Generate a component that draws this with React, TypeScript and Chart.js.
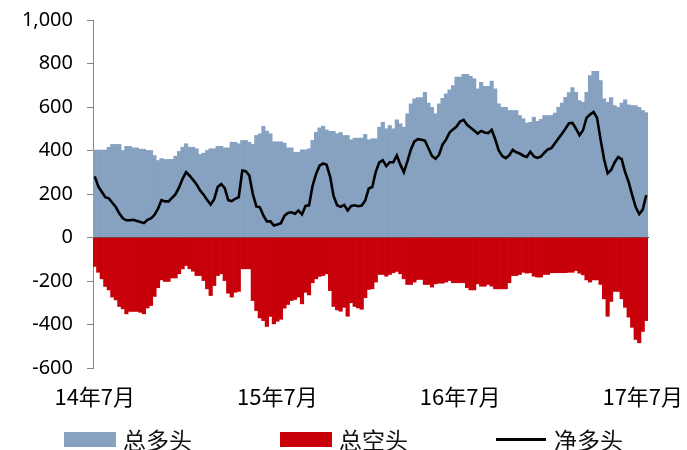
import React, { useEffect, useRef } from 'react';
import { Chart, registerables } from 'chart.js';

Chart.register(...registerables);

// Weekly positions, 2014-07 .. 2017-07
const LONG = [
  402, 402, 402, 402, 415, 428, 428, 428, 400, 419,
  419, 412, 412, 406, 406, 400, 400, 377, 354, 363,
  359, 359, 359, 374, 396, 415, 431, 415, 415, 408,
  382, 388, 400, 408, 408, 419, 419, 412, 412, 438,
  438, 431, 446, 446, 438, 428, 469, 477, 511, 489,
  477, 440, 440, 440, 434, 412, 412, 392, 392, 403,
  403, 408, 446, 484, 504, 512, 495, 488, 488, 477,
  483, 469, 469, 449, 457, 457, 457, 474, 449, 454,
  454, 507, 530, 500, 515, 500, 541, 523, 507, 569,
  615, 638, 643, 643, 668, 618, 599, 569, 615, 640,
  661, 679, 699, 737, 737, 750, 750, 741, 730, 684,
  714, 695, 695, 719, 684, 615, 599, 599, 584, 584,
  584, 561, 546, 526, 530, 553, 534, 543, 561, 561,
  561, 572, 599, 618, 645, 666, 689, 668, 630, 622,
  668, 745, 764, 764, 722, 638, 622, 643, 607, 599,
  618, 633, 610, 607, 607, 599, 584, 574,
];

const SHORT = [
  -133, -160, -190, -225, -241, -274, -287, -317, -328, -351,
  -340, -340, -340, -344, -351, -324, -313, -271, -231, -195,
  -202, -202, -186, -186, -167, -144, -129, -144, -155, -175,
  -175, -198, -236, -267, -221, -175, -167, -198, -256, -274,
  -252, -248, -144, -144, -144, -290, -336, -370, -382, -409,
  -363, -397, -385, -376, -325, -308, -290, -285, -274, -305,
  -252, -264, -208, -190, -179, -175, -167, -244, -317, -333,
  -339, -321, -362, -300, -317, -324, -330, -277, -239, -236,
  -205, -170, -170, -178, -170, -162, -156, -167, -190, -216,
  -216, -205, -193, -193, -216, -216, -228, -213, -210, -210,
  -205, -198, -208, -208, -208, -208, -231, -241, -241, -213,
  -224, -224, -216, -224, -236, -236, -236, -236, -208, -175,
  -175, -170, -160, -164, -162, -178, -182, -182, -170, -170,
  -162, -162, -162, -162, -162, -160, -160, -152, -164, -172,
  -195, -205, -195, -195, -216, -282, -362, -294, -248, -248,
  -282, -321, -366, -413, -469, -484, -432, -382,
];

const NET = [
  281, 235, 210, 185, 180, 160, 140, 110, 88, 79,
  79, 81, 76, 71, 66, 81, 88, 104, 132, 172,
  166, 166, 182, 199, 230, 270, 300, 284, 265, 244,
  216, 197, 172, 152, 176, 232, 246, 227, 172, 167,
  178, 186, 308, 305, 285, 200, 143, 139, 101, 74,
  74, 55, 60, 66, 100, 113, 116, 109, 124, 106,
  145, 148, 237, 292, 330, 340, 334, 280, 190, 148,
  141, 150, 124, 145, 148, 144, 147, 170, 225, 232,
  302, 345, 355, 328, 346, 346, 377, 335, 300, 350,
  405, 442, 452, 449, 445, 410, 375, 362, 380, 427,
  450, 482, 497, 510, 533, 541, 518, 505, 492, 478,
  490, 483, 480, 495, 452, 400, 375, 365, 378, 403,
  392, 386, 376, 370, 394, 373, 366, 372, 390, 405,
  411, 433, 455, 477, 500, 525, 527, 500, 470, 493,
  550, 565, 577, 550, 450, 360, 295, 310, 345, 370,
  360, 300, 255, 195, 140, 108, 128, 195,
];

const WEEKS = LONG.map((_, i) => 'W' + i);
const TICK_INDEX = [0, 52, 104, 156];
const TICK_LABELS = ['14年7月', '15年7月', '16年7月', '17年7月'];
const SERIES_NAMES = ['总多头', '总空头', '净多头'];

const BLUE = '#87A1C1';
const RED = '#C8000A';
const CJK = "'Noto Sans CJK SC', 'Noto Sans', sans-serif";

export default function App() {
  const ref = useRef<HTMLCanvasElement | null>(null);

  useEffect(() => {
    if (!ref.current) return;
    const barCommon = {
      type: 'bar' as const,
      borderWidth: 0,
      barPercentage: 1,
      categoryPercentage: 1,
      stack: 'positions',
      xAxisID: 'x',
      yAxisID: 'y',
    };
    const chart = new Chart(ref.current, {
      type: 'bar',
      data: {
        labels: WEEKS,
        datasets: [
          {
            type: 'line',
            label: SERIES_NAMES[2],
            data: NET,
            borderColor: '#000000',
            borderWidth: 2.6,
            pointRadius: 0,
            tension: 0,
            order: 0,
            stack: 'net',
            xAxisID: 'x',
            yAxisID: 'y',
          } as any,
          { ...barCommon, label: SERIES_NAMES[0], data: LONG, backgroundColor: BLUE, order: 2 },
          { ...barCommon, label: SERIES_NAMES[1], data: SHORT, backgroundColor: RED, order: 1 },
        ],
      },
      options: {
        animation: false,
        responsive: true,
        maintainAspectRatio: false,
        layout: { padding: { top: 20, right: 39, bottom: 0, left: 0 } },
        plugins: { legend: { display: false }, tooltip: { enabled: false } },
        scales: {
          x: {
            type: 'category',
            position: { y: 0 } as any,
            stacked: true,
            offset: true,
            z: 1,
            grid: {
              offset: true,
              drawOnChartArea: false,
              drawTicks: true,
              tickLength: 7,
              lineWidth: 1,
              color: (ctx: any) => (TICK_INDEX.includes(ctx.index) ? '#303030' : 'rgba(0,0,0,0)'),
            },
            border: { display: true, color: '#404040', width: 1 },
            ticks: { display: false, autoSkip: false },
          },
          x2: {
            type: 'category',
            position: 'bottom',
            offset: true,
            grid: { display: false, drawTicks: false, offset: true },
            border: { display: false },
            ticks: {
              autoSkip: false,
              maxRotation: 0,
              minRotation: 0,
              padding: 15,
              color: '#000000',
              font: { family: CJK, size: 22 },
              callback: (_v: any, i: number) => {
                const k = TICK_INDEX.indexOf(i);
                return k >= 0 ? TICK_LABELS[k] : '';
              },
            },
            afterFit: (s: any) => {
              s.height = 82;
            },
          },
          y: {
            type: 'linear',
            position: 'left',
            stacked: true,
            min: -600,
            max: 1000,
            z: 1,
            ticks: {
              stepSize: 200,
              padding: 14,
              color: '#000000',
              font: { family: "'Noto Sans', sans-serif", size: 20 },
              callback: (v: any) => Number(v).toLocaleString('en-US'),
            },
            grid: { drawOnChartArea: false, drawTicks: true, tickLength: 6, color: '#868686' },
            border: { display: true, color: '#868686', width: 1 },
            afterFit: (s: any) => {
              s.width = 93;
              s.paddingTop = 4;
              s.paddingBottom = 4;
            },
          },
        },
      },
    });
    return () => chart.destroy();
  }, []);

  const swatches = [
    <div key="b" style={{ width: 52, height: 15, background: BLUE, marginRight: 7 }} />,
    <div key="r" style={{ width: 52, height: 15, background: RED, marginRight: 7 }} />,
    <div key="l" style={{ width: 50, height: 3, background: '#000', marginRight: 8 }} />,
  ];

  return (
    <div style={{ position: 'absolute', left: 0, top: 0, width: 687, height: 450, background: '#fff' }}>
      <div style={{ position: 'absolute', left: 0, top: 0, width: 687, height: 450 }}>
        <canvas ref={ref} />
      </div>
      <div
        style={{
          position: 'absolute',
          left: 64,
          top: 424,
          height: 30,
          display: 'flex',
          alignItems: 'center',
          fontFamily: CJK,
          fontSize: 23,
          color: '#111',
        }}
      >
        {SERIES_NAMES.map((name, i) => (
          <div key={name} style={{ width: 216, display: 'flex', alignItems: 'center', lineHeight: '30px' }}>
            {swatches[i]}
            <span>{name}</span>
          </div>
        ))}
      </div>
    </div>
  );
}
